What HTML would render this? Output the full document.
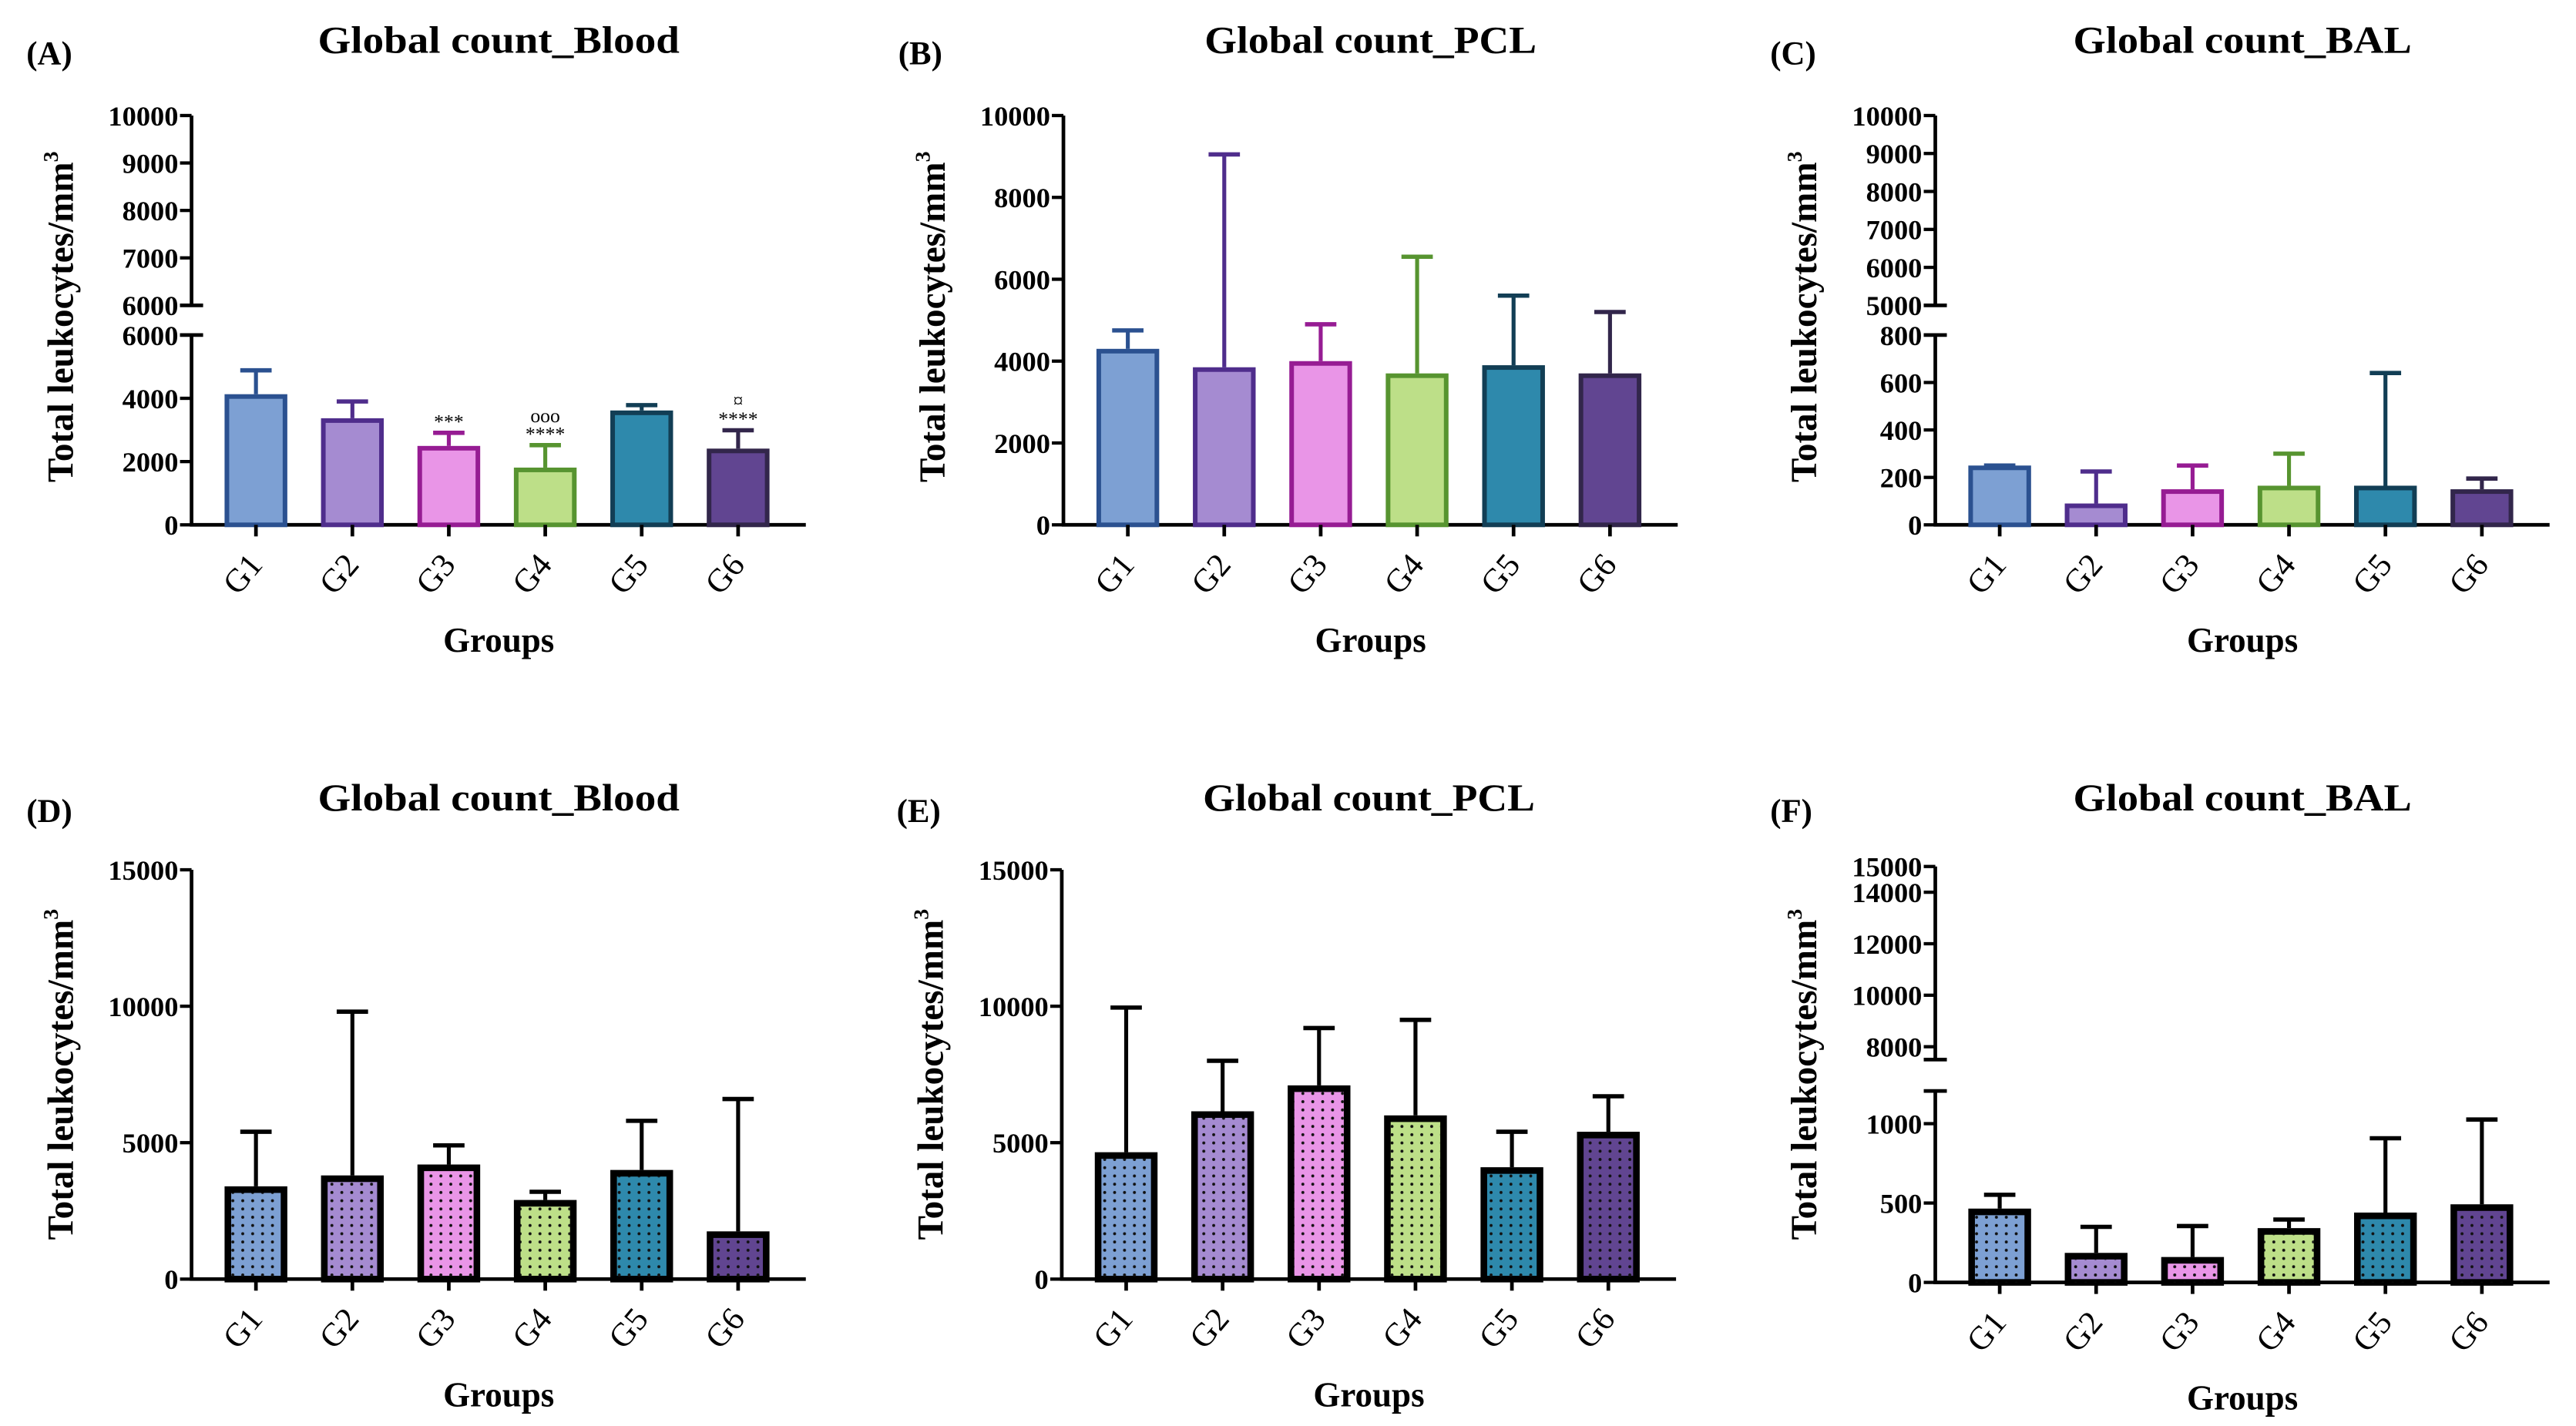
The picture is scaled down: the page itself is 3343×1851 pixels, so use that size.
<!DOCTYPE html>
<html><head><meta charset="utf-8"><style>
html,body{margin:0;padding:0;background:#fff;}
svg{display:block;}
text{font-family:"Liberation Serif",serif;}
</style></head><body>
<svg id="fig" xmlns="http://www.w3.org/2000/svg" width="3343" height="1851" viewBox="0 0 1560 864" preserveAspectRatio="none">
<defs>
<pattern id="dots" width="6" height="5" patternUnits="userSpaceOnUse"><circle cx="3" cy="2.5" r="0.9" fill="#111"/></pattern>
</defs>
</svg>
<script>
const groups = ['G1','G2','G3','G4','G5','G6'];
const bloodTopMeans = [4130, 3370, 2495, 1810, 3615, 2410];
const bloodTopErr   = [4885, 3900, 2910, 2520, 3785, 2990];
const pclTopMeans   = [4300, 3850, 4000, 3700, 3900, 3700];
const pclTopErr     = [4750, 9050, 4900, 6550, 5600, 5200];
const balTopMeans   = [250, 90, 150, 165, 165, 150];
const balTopErr     = [250, 225, 250, 300, 640, 195];
const bloodBotMeans = [3400, 3800, 4200, 2900, 4000, 1750];
const bloodBotErr   = [5400, 9800, 4900, 3200, 5800, 6600];
const pclBotMeans   = [4650, 6150, 7100, 6000, 4100, 5400];
const pclBotErr     = [9950, 8000, 9200, 9500, 5400, 6700];
const balBotMeans   = [465, 186, 160, 342, 440, 492];
const balBotErr     = [552, 350, 355, 396, 908, 1026];
const bloodTopAnnot = ['', '', '***', 'ooo|****', '', '¤|****'];

const fills = ['#7DA0D3','#A58BD1','#E995E7','#BDDF88','#2E89AC','#614591'];
const strokes = ['#2B5190','#4F2D8C','#961C93','#579430','#123E55','#32264B'];

const svg = document.getElementById('fig');
const NS = 'http://www.w3.org/2000/svg';
function mk(tag, attrs, parent){const e=document.createElementNS(NS,tag);for(const k in attrs)e.setAttribute(k,attrs[k]);(parent||svg).appendChild(e);return e;}

const panels = [
 {id:'a',label:'(A)',title:'Global count_Blood',tw:219,ax:116,zero:318,row:0,means:bloodTopMeans,errs:bloodTopErr,annot:bloodTopAnnot,
  segs:[{lo:0,hi:6000,yb:318,yt:203,ticks:[0,2000,4000,6000]},{lo:6000,hi:10000,yb:185,yt:70,ticks:[6000,7000,8000,9000,10000]}]},
 {id:'b',label:'(B)',title:'Global count_PCL',tw:201,ax:644,zero:318,row:0,means:pclTopMeans,errs:pclTopErr,
  segs:[{lo:0,hi:10000,yb:318,yt:70,ticks:[0,2000,4000,6000,8000,10000]}]},
 {id:'c',label:'(C)',title:'Global count_BAL',tw:205,ax:1172,zero:318,row:0,means:balTopMeans,errs:balTopErr,
  segs:[{lo:0,hi:800,yb:318,yt:203,ticks:[0,200,400,600,800]},{lo:5000,hi:10000,yb:185,yt:70,ticks:[5000,6000,7000,8000,9000,10000]}]},
 {id:'d',label:'(D)',title:'Global count_Blood',tw:219,ax:116,zero:775,row:1,means:bloodBotMeans,errs:bloodBotErr,
  segs:[{lo:0,hi:15000,yb:775,yt:527,ticks:[0,5000,10000,15000]}]},
 {id:'e',label:'(E)',title:'Global count_PCL',tw:201,ax:643,zero:775,row:1,means:pclBotMeans,errs:pclBotErr,
  segs:[{lo:0,hi:15000,yb:775,yt:527,ticks:[0,5000,10000,15000]}]},
 {id:'f',label:'(F)',title:'Global count_BAL',tw:205,ax:1172,zero:777,row:1,means:balBotMeans,errs:balBotErr,
  segs:[{lo:0,hi:1206,yb:777,yt:661,ticks:[0,500,1000]},{lo:7500,hi:15000,yb:642,yt:525,ticks:[8000,10000,12000,14000,15000]}]}
];

function scaleFor(segs){
  return function(v){
    for(const s of segs){ if(v<=s.hi || s===segs[segs.length-1]) { const c=Math.max(v,s.lo); return s.yb-(c-s.lo)/(s.hi-s.lo)*(s.yb-s.yt);} }
  };
}

panels.forEach(p=>{
  const g = mk('g',{});
  
  
  const y = scaleFor(p.segs);
  const off = p.row===0?0:459;
  const dark = p.row===1;
  const pl = mk('text',{x:p.ax-100,y:39+off,'font-size':20,'font-weight':'bold'},g);
  pl.textContent=p.label;
  
  
  const t = mk('text',{x:p.ax+186,y:32+off,'font-size':23,'font-weight':'bold','text-anchor':'middle',textLength:p.tw,lengthAdjust:'spacingAndGlyphs'},g);
  t.textContent=p.title;
  
  
  const yl = mk('text',{x:0,y:0,'font-size':22,'font-weight':'bold','text-anchor':'middle',transform:`translate(${p.ax-72},${192+off}) rotate(-90)`},g);
  
  
  const ts1 = mk('tspan',{},yl); ts1.textContent='Total leukocytes/mm';
  const ts2 = mk('tspan',{dy:-9,'font-size':13}, yl); ts2.textContent='3';
  p.segs.forEach((s,si)=>{
    const isBotSeg = si===0;
    const line = mk('line',{x1:p.ax,x2:p.ax,y1:s.yb+(isBotSeg?1:0),y2:s.yt,stroke:'#000','stroke-width':2.2},g);
    
    
    s.ticks.forEach(v=>{
      const yy = s.yb-(v-s.lo)/(s.hi-s.lo)*(s.yb-s.yt);
      mk('line',{x1:p.ax-7,x2:p.ax,y1:yy,y2:yy,stroke:'#000','stroke-width':2},g);
      const tl = mk('text',{x:p.ax-8,y:yy+6,'font-size':17,'font-weight':'bold','text-anchor':'end'},g);
      tl.textContent=v;
      
      
    });
    if(!isBotSeg){ mk('line',{x1:p.ax-7,x2:p.ax+7,y1:s.yb,y2:s.yb,stroke:'#000','stroke-width':2.2},g); }
    if(p.segs.length>1 && isBotSeg){ mk('line',{x1:p.ax-7,x2:p.ax+7,y1:s.yt,y2:s.yt,stroke:'#000','stroke-width':2.2},g); }
  });
  const xa = mk('line',{x1:p.ax-1,x2:p.ax+372,y1:p.zero,y2:p.zero,stroke:'#000','stroke-width':2.2},g);
  
  
  groups.forEach((gr,i)=>{
    const cx = p.ax+39+58.4*i;
    const bw = 38;
    const top = y(p.means[i]);
    const cap = y(p.errs[i]);
    const ec = dark?'#000':strokes[i];
    const sw = dark?4:2.8;
    const eb = mk('line',{x1:cx,x2:cx,y1:top,y2:cap,stroke:ec,'stroke-width':2.4},g);
    
    
    mk('line',{x1:cx-9.5,x2:cx+9.5,y1:cap,y2:cap,stroke:ec,'stroke-width':2.6},g);
    const r = mk('rect',{x:cx-bw/2+sw/2,y:top+sw/2,width:bw-sw,height:Math.max(0,p.zero-top-sw/2),fill:fills[i],stroke:ec,'stroke-width':sw},g);
    
    
    if(dark){ mk('rect',{x:cx-bw/2+sw,y:top+sw,width:bw-2*sw,height:Math.max(0,p.zero-top-sw),fill:'url(#dots)'},g); }
    mk('line',{x1:cx,x2:cx,y1:p.zero,y2:p.zero+7,stroke:'#000','stroke-width':2.2},g);
    const xl = mk('text',{x:0,y:0,'font-size':20,'text-anchor':'middle',transform:`translate(${cx-3},${p.zero+34}) rotate(-50)`},g);
    xl.textContent=gr;
    
    
    if(p.annot && p.annot[i]){
      const parts = p.annot[i].split('|').reverse();
      parts.forEach((s,k)=>{
        const an = mk('text',{x:cx,y:cap-3-k*11,'font-size':12,'text-anchor':'middle'},g);
        an.textContent=s;
        
        
      });
    }
  });
  const xt = mk('text',{x:p.ax+186,y:p.zero+77,'font-size':21,'font-weight':'bold','text-anchor':'middle'},g);
  xt.textContent='Groups';
  
  
});
</script>
</body></html>
